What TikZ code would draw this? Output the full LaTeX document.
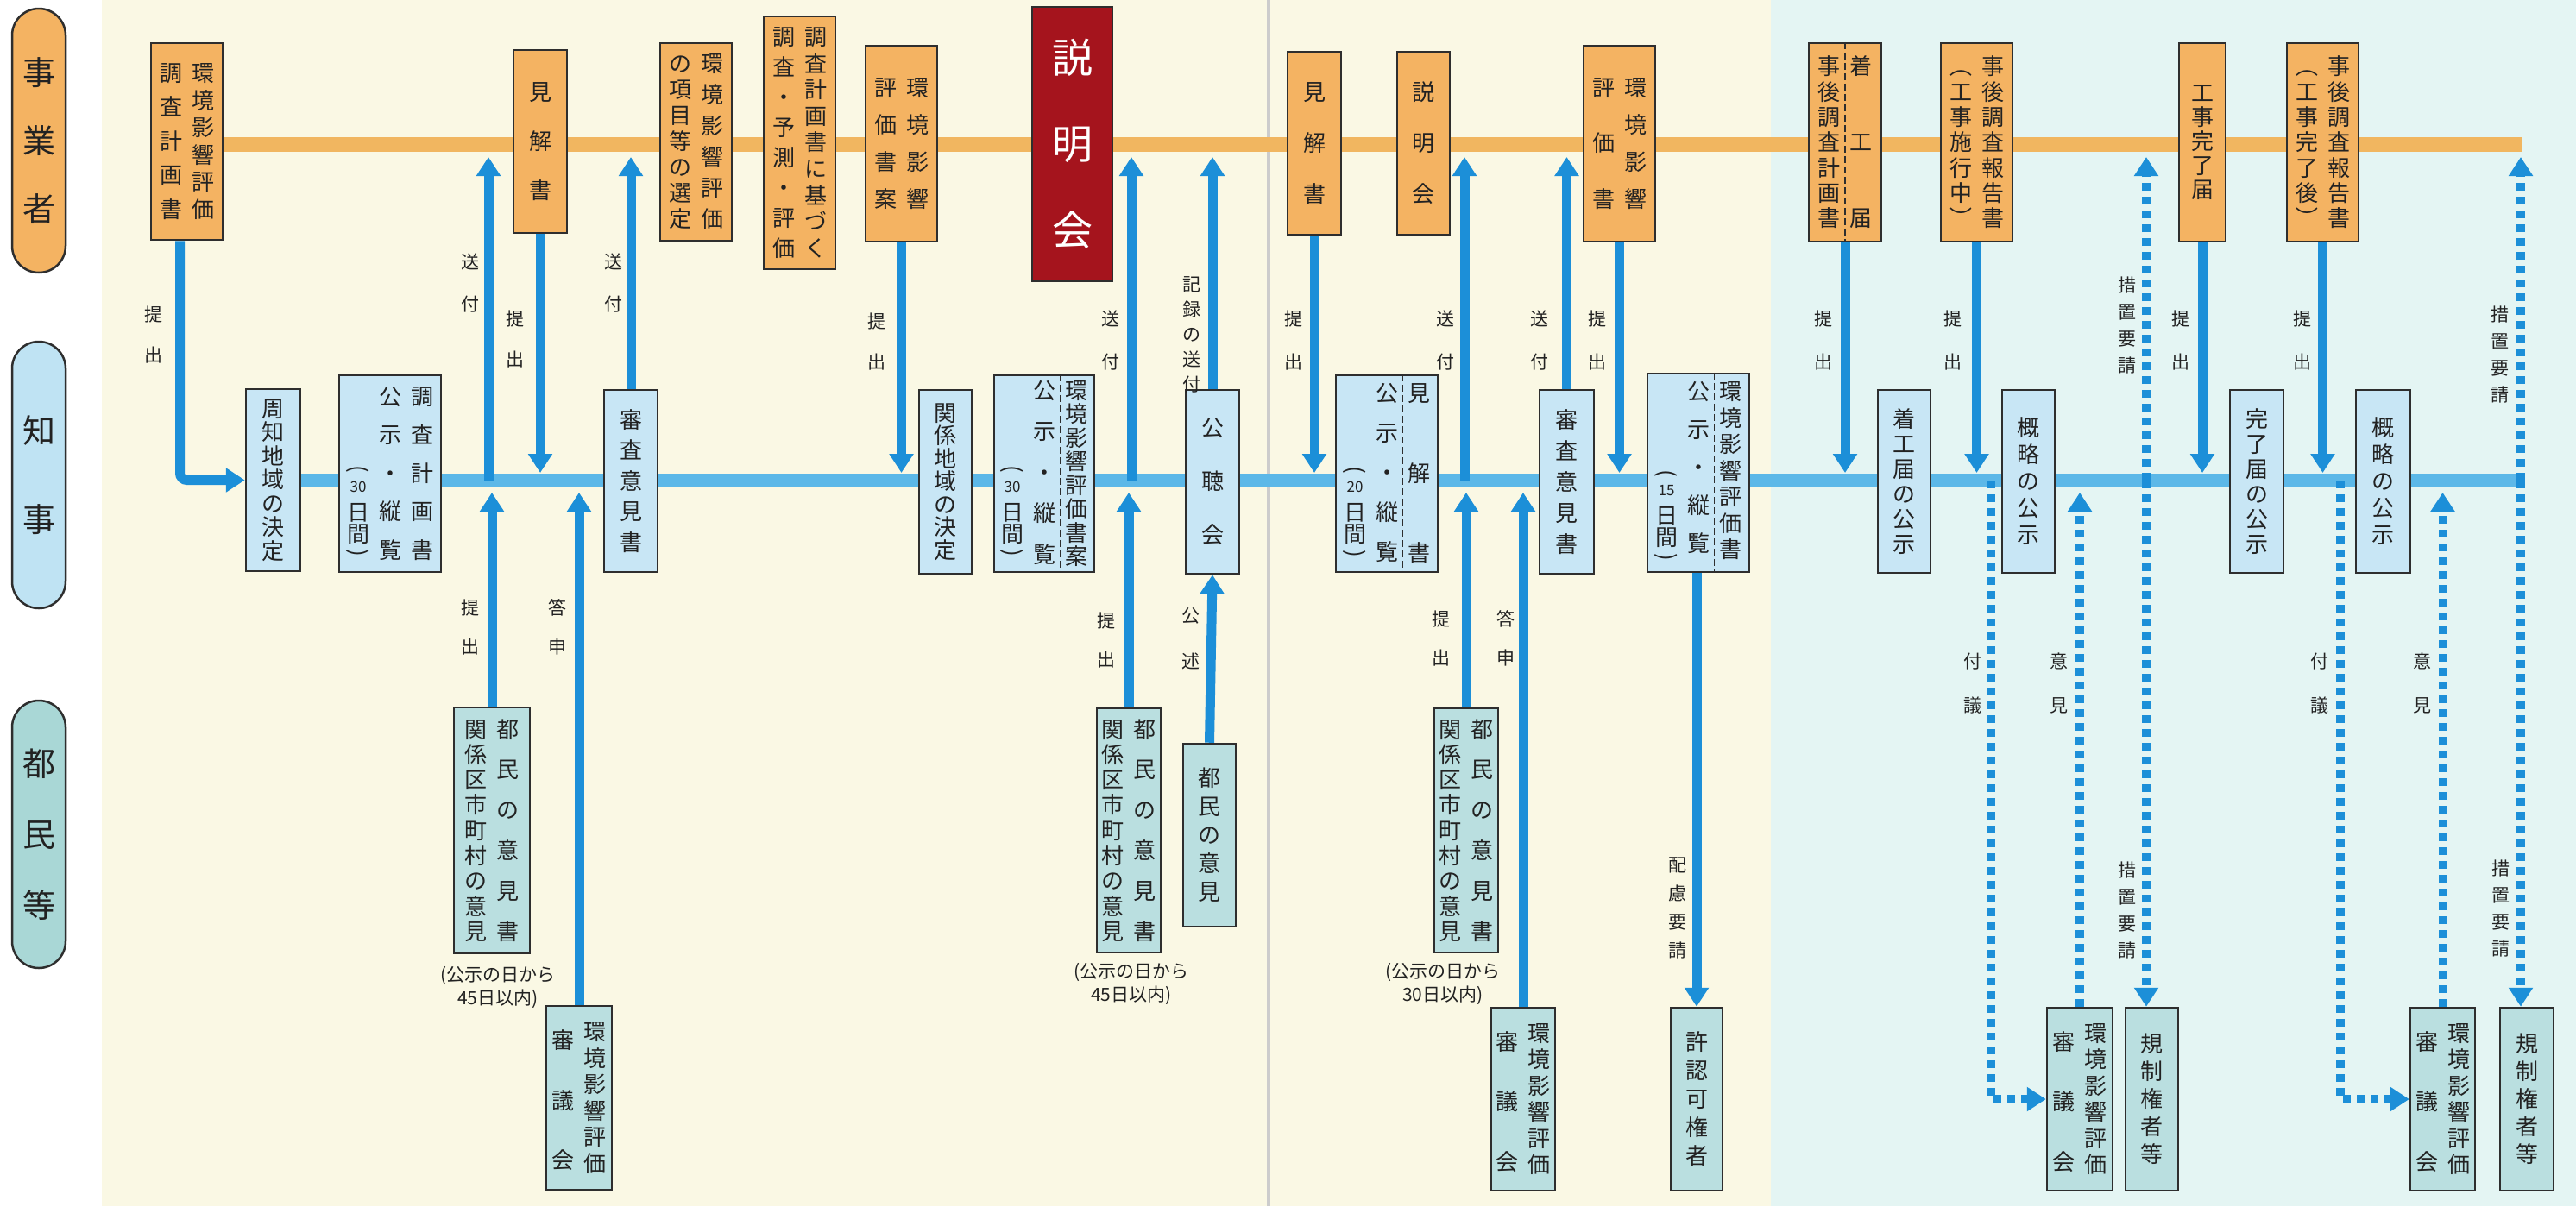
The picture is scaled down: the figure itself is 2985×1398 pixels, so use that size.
\documentclass[tikz,border=0pt]{standalone}
\usepackage{fontspec}
\usepackage{graphicx}
\setmainfont{Noto Sans CJK JP}
\usetikzlibrary{arrows.meta,positioning}

\definecolor{bgcream}{HTML}{FAF8E4}
\definecolor{bgcyan}{HTML}{E4F5F3}
\definecolor{orgbox}{HTML}{F4B362}
\definecolor{orgline}{HTML}{F1B660}
\definecolor{bluebox}{HTML}{C8E6F5}
\definecolor{tealbox}{HTML}{BADFE0}
\definecolor{laneblue}{HTML}{BFE3F3}
\definecolor{laneteal}{HTML}{A9D7D6}
\definecolor{blueline}{HTML}{5CB8E8}
\definecolor{arrblue}{HTML}{1C8FD8}
\definecolor{redbox}{HTML}{A5141D}
\definecolor{bd}{HTML}{2E2E2E}
\definecolor{txt}{HTML}{222222}

\newcommand\vt[2][32pt]{\vtop{\baselineskip=#1\lineskiplimit=-\maxdimen\lineskip=0pt\vtloop#2\relax}}
\def\vtloop#1{\ifx\relax#1\else\hbox to 1em{\hss#1\hss}\expandafter\vtloop\fi}
\newcommand\nm[1]{{\fontsize{17}{17}\selectfont#1}}
\newcommand\ch[1]{\hbox to 1em{\hss#1\hss}}
\newcommand\days[1]{\vtop{\baselineskip=0pt\lineskiplimit=-\maxdimen\lineskip=0pt\ch{\rotatebox[origin=c]{-90}{(}}\kern18pt\ch{\nm{#1}}\kern33pt\ch{日}\kern25pt\ch{間}\kern21pt\ch{\rotatebox[origin=c]{-90}{)}}}}
\newcommand\bxf{\fontsize{26}{30}\selectfont}
\newcommand\lbf{\fontsize{21}{24}\selectfont}
\newcommand\lnf{\fontsize{38}{40}\selectfont}
\newcommand\rdf{\fontsize{47}{50}\selectfont}
\newcommand\ntf{\fontsize{21}{27}\selectfont}

\begin{document}
\begin{tikzpicture}[x=1pt,y=-1pt,
  lane/.style={draw=bd,line width=2.5pt,rounded corners=31pt,inner sep=0pt,minimum width=62pt,font=\lnf,text=txt},
  obox/.style={draw=bd,line width=2.5pt,fill=orgbox,inner sep=0pt,font=\bxf,text=txt},
  kbox/.style={obox,fill=bluebox},
  tbox/.style={obox,fill=tealbox},
  rbox/.style={obox,fill=redbox,text=white,font=\rdf},
  lbl/.style={inner sep=0pt,font=\lbf,text=txt},
  note/.style={inner sep=0pt,font=\ntf,align=center,text=txt},
  arr/.style={draw=arrblue,line width=11pt,-{Triangle[length=22pt,width=27pt]}},
  darr/.style={arr,line width=10pt,dash pattern=on 9pt off 7pt},
  divl/.style={draw=bd,line width=1.5pt,dash pattern=on 8pt off 4pt},
  oline/.style={draw=orgline,line width=17pt},
  bline/.style={draw=blueline,line width=16pt}]
  \useasboundingbox (0,0) rectangle (2985,1398);
  \fill[white] (0,0) rectangle (2985,1398);
  \fill[bgcream] (118,0) rectangle (2052,1398);
  \fill[bgcyan] (2052,0) rectangle (2985,1398);
  \draw[black!20,line width=4pt] (1470,0) -- (1470,1398);

  \coordinate (ostart) at (258,167); \coordinate (oend) at (2923,167);
  \coordinate (bstart) at (348,557); \coordinate (bend) at (2923,557);
  \draw[oline] (ostart) -- (oend);
  \draw[bline] (bstart) -- (bend);

  \node[lane,fill=orgbox,minimum height=306pt] (lane1) at (45,163) {\vt[79pt]{事業者}};
  \node[lane,fill=laneblue,minimum height=309pt] (lane2) at (45,550.5) {\vt[103pt]{知事}};
  \node[lane,fill=laneteal,minimum height=310pt] (lane3) at (45,967) {\vt[82pt]{都民等}};

  \node[obox,minimum width=83pt,minimum height=228pt] (plan) at (216.5,164) {\vt[39.5pt]{調査計画書}\hspace{11pt}\vt[31.6pt]{環境影響評価}};
  \node[obox,minimum width=62pt,minimum height=212pt] (view1) at (626,164) {\vt[57pt]{見解書}};
  \node[obox,minimum width=83pt,minimum height=229pt] (select) at (806.5,164.5) {\vt[30pt]{の項目等の選定}\hspace{11pt}\vt[36pt]{環境影響評価}};
  \node[obox,minimum width=83pt,minimum height=293pt] (survey) at (926.5,165.5) {\vt[35pt]{調査・予測・評価}\hspace{11pt}\vt[30.6pt]{調査計画書に基づく}};
  \node[obox,minimum width=83pt,minimum height=227pt] (draft) at (1044.5,166.5) {\vt[43pt]{評価書案}\hspace{11pt}\vt[43pt]{環境影響}};
  \node[rbox,minimum width=93pt,minimum height=318pt] (brief1) at (1242.5,167) {\vt[100pt]{説明会}};
  \node[obox,minimum width=62pt,minimum height=212pt] (view2) at (1523,166) {\vt[59pt]{見解書}};
  \node[obox,minimum width=61pt,minimum height=212pt] (brief2) at (1649.5,166) {\vt[59pt]{説明会}};
  \node[obox,minimum width=83pt,minimum height=227pt] (report) at (1876.5,166.5) {\vt[64.5pt]{評価書}\hspace{11pt}\vt[43pt]{環境影響}};
  \node[obox,minimum width=84pt,minimum height=230pt] (start) at (2138,165) {\vt[29.3pt]{事後調査計画書}\hspace{11pt}\vt[88pt]{着工届}};
  \node[obox,minimum width=83pt,minimum height=230pt] (post1) at (2290.5,165) {\vt[29.3pt]{︵工事施行中︶}\hspace{11pt}\vt[29.3pt]{事後調査報告書}};
  \node[obox,minimum width=54pt,minimum height=230pt] (done) at (2552,165) {\vt[28pt]{工事完了届}};
  \node[obox,minimum width=83pt,minimum height=230pt] (post2) at (2691.5,165) {\vt[29.3pt]{︵工事完了後︶}\hspace{11pt}\vt[29.3pt]{事後調査報告書}};
  \draw[divl] (start.north) -- (start.south);

  \node[kbox,minimum width=63pt,minimum height=211pt] (area1) at (316.5,556.5) {\vt[27.5pt]{周知地域の決定}};
  \node[kbox,minimum width=118pt,minimum height=228pt] (pub1) at (452,549) {\raisebox{-83pt}{\days{30}}\hspace{11pt}\vt[44.5pt]{公示・縦覧}\hspace{11pt}\vt[44.5pt]{調査計画書}};
  \node[kbox,minimum width=62pt,minimum height=211pt] (rev1) at (731,557.5) {\vt[35.5pt]{審査意見書}};
  \node[kbox,minimum width=61pt,minimum height=213pt] (area2) at (1095.5,558.5) {\vt[26.5pt]{関係地域の決定}};
  \node[kbox,minimum width=116pt,minimum height=228pt] (pub2) at (1210,549) {\raisebox{-90pt}{\days{30}}\hspace{11pt}\vt[47.5pt]{公示・縦覧}\hspace{11pt}\vt[27.5pt]{環境影響評価書案}};
  \node[kbox,minimum width=62pt,minimum height=213pt] (hearing) at (1405,558.5) {\vt[62pt]{公聴会}};
  \node[kbox,minimum width=118pt,minimum height=228pt] (pub3) at (1607,549) {\raisebox{-87pt}{\days{20}}\hspace{11pt}\vt[46pt]{公示・縦覧}\hspace{11pt}\vt[92.5pt]{見解書}};
  \node[kbox,minimum width=63pt,minimum height=213pt] (rev2) at (1815.5,558.5) {\vt[36pt]{審査意見書}};
  \node[kbox,minimum width=118pt,minimum height=230pt] (pub4) at (1968,548) {\raisebox{-93pt}{\days{15}}\hspace{11pt}\vt[44pt]{公示・縦覧}\hspace{11pt}\vt[30.5pt]{環境影響評価書}};
  \node[kbox,minimum width=61pt,minimum height=212pt] (startpub) at (2206.5,558) {\vt[29pt]{着工届の公示}};
  \node[kbox,minimum width=61pt,minimum height=212pt] (outline1) at (2350.5,558) {\vt[31pt]{概略の公示}};
  \node[kbox,minimum width=62pt,minimum height=212pt] (donepub) at (2615,558) {\vt[29pt]{完了届の公示}};
  \node[kbox,minimum width=63pt,minimum height=212pt] (outline2) at (2761.5,558) {\vt[31pt]{概略の公示}};
  \draw[divl] ([xshift=18.5pt]pub1.north) -- ([xshift=18.5pt]pub1.south);
  \draw[divl] ([xshift=18.5pt]pub2.north) -- ([xshift=18.5pt]pub2.south);
  \draw[divl] ([xshift=18.5pt]pub3.north) -- ([xshift=18.5pt]pub3.south);
  \draw[divl] ([xshift=18.5pt]pub4.north) -- ([xshift=18.5pt]pub4.south);

  \node[tbox,minimum width=88pt,minimum height=285pt] (opin1) at (570,962.5) {\vt[29.3pt]{関係区市町村の意見}\hspace{11pt}\vt[46.8pt]{都民の意見書}};
  \node[tbox,minimum width=76pt,minimum height=213pt] (council1) at (671,1272.5) {\raisebox{-10pt}{\vt[69.5pt]{審議会}}\hspace{11pt}\vt[30.5pt]{環境影響評価}};
  \node[tbox,minimum width=74pt,minimum height=283pt] (opin2) at (1308,962.5) {\vt[29.3pt]{関係区市町村の意見}\hspace{11pt}\vt[46.8pt]{都民の意見書}};
  \node[tbox,minimum width=61pt,minimum height=212pt] (voice) at (1401.5,968) {\vt[33pt]{都民の意見}};
  \node[tbox,minimum width=74pt,minimum height=283pt] (opin3) at (1699,962.5) {\vt[29.3pt]{関係区市町村の意見}\hspace{11pt}\vt[46.8pt]{都民の意見書}};
  \node[tbox,minimum width=74pt,minimum height=212pt] (council2) at (1765,1274) {\raisebox{-10pt}{\vt[69.5pt]{審議会}}\hspace{11pt}\vt[30.5pt]{環境影響評価}};
  \node[tbox,minimum width=60pt,minimum height=212pt] (permit) at (1966,1274) {\vt[33pt]{許認可権者}};
  \node[tbox,minimum width=76pt,minimum height=212pt] (council3) at (2410,1274) {\raisebox{-10pt}{\vt[69.5pt]{審議会}}\hspace{11pt}\vt[30.5pt]{環境影響評価}};
  \node[tbox,minimum width=61pt,minimum height=212pt] (reg1) at (2493.5,1274) {\vt[32pt]{規制権者等}};
  \node[tbox,minimum width=75pt,minimum height=212pt] (council4) at (2830.5,1274) {\raisebox{-10pt}{\vt[69.5pt]{審議会}}\hspace{11pt}\vt[30.5pt]{環境影響評価}};
  \node[tbox,minimum width=62pt,minimum height=212pt] (reg2) at (2928,1274) {\vt[32pt]{規制権者等}};

  \node[note] (note1) at (577,1144) {(公示の日から\\45日以内)};
  \node[note] (note2) at (1311,1140) {(公示の日から\\45日以内)};
  \node[note] (note3) at (1672,1140) {(公示の日から\\30日以内)};

  \coordinate (otip) at (0,182); \coordinate (btip) at (0,548); \coordinate (bbot) at (0,571);
  \coordinate (s1) at (566,557); \coordinate (s2) at (1311,557); \coordinate (s3) at (1697,557);
  \coordinate (f1) at (2307,557); \coordinate (f2) at (2712,557);
  \coordinate (z1) at (2487,557); \coordinate (z2) at (2921,557);

  \draw[arr,rounded corners=8pt] ([xshift=-8pt]plan.south) |- (area1.west);
  \draw[arr] (s1) -- (s1 |- otip);
  \draw[arr] (view1.south) -- (view1.south |- btip);
  \draw[arr] (rev1.north) -- (rev1.north |- otip);
  \draw[arr] (opin1.north) -- (opin1.north |- bbot);
  \draw[arr] (council1.north) -- (council1.north |- bbot);
  \draw[arr] (draft.south) -- (draft.south |- btip);
  \draw[arr] (s2) -- (s2 |- otip);
  \draw[arr] (hearing.north) -- (hearing.north |- otip);
  \draw[arr] (opin2.north) -- (opin2.north |- bbot);
  \draw[arr] (voice.north) -- (hearing.south);
  \draw[arr] (view2.south) -- (view2.south |- btip);
  \draw[arr] (s3) -- (s3 |- otip);
  \draw[arr] (rev2.north) -- (rev2.north |- otip);
  \draw[arr] (report.south) -- (report.south |- btip);
  \draw[arr] (opin3.north) -- (opin3.north |- bbot);
  \draw[arr] (council2.north) -- (council2.north |- bbot);
  \draw[arr] (pub4.south -| permit.north) -- (permit.north);
  \draw[arr] (start.south) -- (start.south |- btip);
  \draw[arr] (post1.south) -- (post1.south |- btip);
  \draw[arr] (done.south) -- (done.south |- btip);
  \draw[arr] (post2.south) -- (post2.south |- btip);
  \draw[darr] (f1) |- (council3.west);
  \draw[darr] (council3.north) -- (council3.north |- bbot);
  \draw[darr] (z1) -- (z1 |- otip);
  \draw[darr] (z1) -- (z1 |- reg1.north);
  \draw[darr] (f2) |- (council4.west);
  \draw[darr] (council4.north) -- (council4.north |- bbot);
  \draw[darr] (z2) -- (z2 |- otip);
  \draw[darr] (z2) -- (z2 |- reg2.north);

  \node[lbl] (lab1) at (178,388) {\vt[47pt]{提出}};
  \node[lbl] (lab2) at (545,328) {\vt[49pt]{送付}};
  \node[lbl] (lab3) at (597,393) {\vt[47pt]{提出}};
  \node[lbl] (lab4) at (711,328) {\vt[49pt]{送付}};
  \node[lbl] (lab5) at (545,727) {\vt[45pt]{提出}};
  \node[lbl] (lab6) at (646,727) {\vt[45pt]{答申}};
  \node[lbl] (lab7) at (1016,396) {\vt[47pt]{提出}};
  \node[lbl] (lab8) at (1287,395) {\vt[50pt]{送付}};
  \node[lbl] (lab9) at (1381,388) {\vt[29pt]{記録の送付}};
  \node[lbl] (lab10) at (1282,742) {\vt[45pt]{提出}};
  \node[lbl] (lab11) at (1380,740) {\vt[53pt]{公述}};
  \node[lbl] (lab12) at (1499,395) {\vt[50pt]{提出}};
  \node[lbl] (lab13) at (1675,395) {\vt[50pt]{送付}};
  \node[lbl] (lab14) at (1784,395) {\vt[50pt]{送付}};
  \node[lbl] (lab15) at (1851,395) {\vt[50pt]{提出}};
  \node[lbl] (lab16) at (1670,740) {\vt[45pt]{提出}};
  \node[lbl] (lab17) at (1745,740) {\vt[45pt]{答申}};
  \node[lbl] (lab18) at (1944,1052) {\vt[33pt]{配慮要請}};
  \node[lbl] (lab19) at (2113,395) {\vt[50pt]{提出}};
  \node[lbl] (lab20) at (2263,395) {\vt[50pt]{提出}};
  \node[lbl] (lab21) at (2527,395) {\vt[50pt]{提出}};
  \node[lbl] (lab22) at (2668,395) {\vt[50pt]{提出}};
  \node[lbl] (lab23) at (2286,792) {\vt[51pt]{付議}};
  \node[lbl] (lab24) at (2386,792) {\vt[51pt]{意見}};
  \node[lbl] (lab25) at (2465,377) {\vt[31pt]{措置要請}};
  \node[lbl] (lab26) at (2465,1055) {\vt[31pt]{措置要請}};
  \node[lbl] (lab27) at (2688,792) {\vt[51pt]{付議}};
  \node[lbl] (lab28) at (2807,792) {\vt[51pt]{意見}};
  \node[lbl] (lab29) at (2897,411) {\vt[31pt]{措置要請}};
  \node[lbl] (lab30) at (2898,1053) {\vt[31pt]{措置要請}};
\end{tikzpicture}
\end{document}
